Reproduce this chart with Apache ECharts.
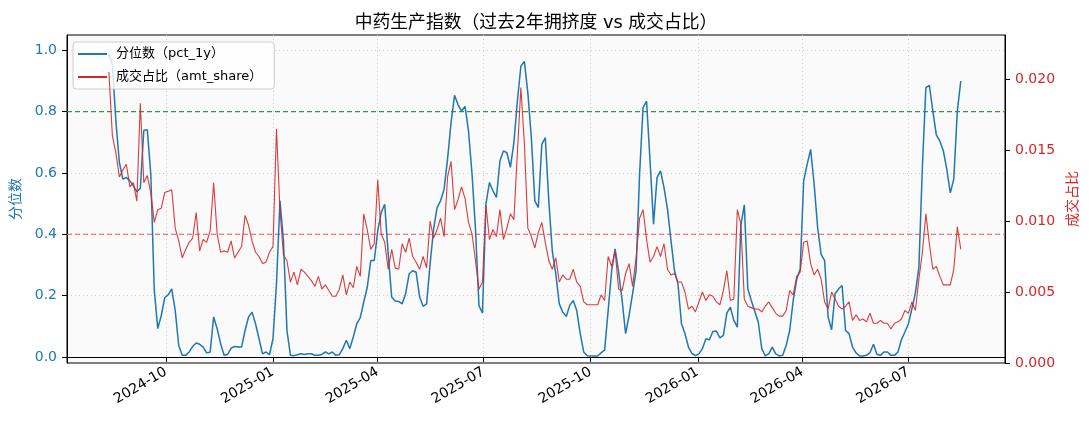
<!DOCTYPE html>
<html>
<head>
<meta charset="UTF-8">
<title>中药生产指数</title>
<script src="https://cdn.jsdelivr.net/npm/echarts@6/dist/echarts.min.js"></script>
<style>
  html, body { margin: 0; padding: 0; background: #fff; }
  #chart { width: 1089px; height: 429px; }
</style>
</head>
<body>
<div id="chart"></div>
<script type="text/javascript">
// 采样：从 startDate 起每 stepDays 天一个点
var startDate = '2024-08-13';
var stepDays = 3;

// 分位数（pct_1y）
var pctVals = [
  0.986, 0.953, 0.769, 0.634, 0.580, 0.585, 0.574, 0.558, 0.539, 0.550,
  0.739, 0.741, 0.596, 0.216, 0.092, 0.135, 0.193, 0.203, 0.222, 0.151,
  0.037, 0.005, 0.005, 0.016, 0.034, 0.045, 0.041, 0.032, 0.013, 0.015,
  0.130, 0.092, 0.043, 0.005, 0.008, 0.028, 0.034, 0.032, 0.032, 0.086,
  0.130, 0.146, 0.108, 0.059, 0.010, 0.016, 0.007, 0.059, 0.238, 0.509,
  0.379, 0.086, 0.005, 0.004, 0.007, 0.010, 0.008, 0.010, 0.010, 0.005,
  0.005, 0.008, 0.016, 0.010, 0.016, 0.005, 0.007, 0.027, 0.054, 0.027,
  0.065, 0.108, 0.128, 0.179, 0.227, 0.314, 0.314, 0.411, 0.471, 0.498,
  0.336, 0.195, 0.182, 0.181, 0.173, 0.206, 0.271, 0.281, 0.276, 0.195,
  0.165, 0.173, 0.303, 0.417, 0.487, 0.509, 0.547, 0.645, 0.764, 0.853,
  0.823, 0.802, 0.817, 0.737, 0.598, 0.417, 0.167, 0.143, 0.498, 0.569,
  0.542, 0.520, 0.639, 0.672, 0.666, 0.618, 0.699, 0.834, 0.948, 0.964,
  0.861, 0.715, 0.509, 0.487, 0.693, 0.715, 0.509, 0.346, 0.271, 0.173,
  0.146, 0.132, 0.168, 0.184, 0.151, 0.076, 0.016, 0.004, 0.003, 0.003,
  0.003, 0.013, 0.023, 0.151, 0.281, 0.352, 0.276, 0.184, 0.076, 0.135,
  0.206, 0.281, 0.596, 0.813, 0.834, 0.639, 0.433, 0.585, 0.607, 0.552,
  0.482, 0.379, 0.281, 0.238, 0.108, 0.076, 0.032, 0.011, 0.004, 0.010,
  0.027, 0.059, 0.056, 0.083, 0.084, 0.062, 0.070, 0.143, 0.162, 0.119,
  0.097, 0.428, 0.496, 0.222, 0.184, 0.149, 0.113, 0.027, 0.003, 0.010,
  0.032, 0.010, 0.003, 0.005, 0.038, 0.086, 0.184, 0.252, 0.287, 0.574,
  0.628, 0.677, 0.563, 0.422, 0.334, 0.314, 0.130, 0.088, 0.206, 0.222,
  0.233, 0.086, 0.076, 0.032, 0.013, 0.003, 0.003, 0.005, 0.014, 0.041,
  0.008, 0.005, 0.016, 0.016, 0.005, 0.005, 0.016, 0.056, 0.081, 0.108,
  0.157, 0.209, 0.292, 0.618, 0.878, 0.886, 0.802, 0.724, 0.704, 0.672,
  0.612, 0.535, 0.580, 0.800, 0.900
];

// 成交占比（amt_share）
var amtVals = [
  0.0205, 0.0160, 0.0148, 0.0131, 0.0136, 0.0140, 0.0124, 0.0127, 0.0114, 0.0183,
  0.0127, 0.0132, 0.0120, 0.0099, 0.0108, 0.0109, 0.0120, 0.0121, 0.0122, 0.0095,
  0.0086, 0.0074, 0.0080, 0.0085, 0.0088, 0.0106, 0.0079, 0.0087, 0.0085, 0.0093,
  0.0127, 0.0091, 0.0078, 0.0079, 0.0078, 0.0086, 0.0074, 0.0078, 0.0082, 0.0104,
  0.0097, 0.0086, 0.0078, 0.0075, 0.0070, 0.0071, 0.0078, 0.0082, 0.0165, 0.0108,
  0.0076, 0.0072, 0.0057, 0.0064, 0.0055, 0.0066, 0.0064, 0.0061, 0.0058, 0.0054,
  0.0061, 0.0052, 0.0055, 0.0051, 0.0047, 0.0047, 0.0052, 0.0062, 0.0048, 0.0057,
  0.0053, 0.0068, 0.0061, 0.0105, 0.0094, 0.0080, 0.0084, 0.0129, 0.0091, 0.0085,
  0.0066, 0.0080, 0.0067, 0.0066, 0.0084, 0.0078, 0.0088, 0.0075, 0.0071, 0.0066,
  0.0075, 0.0067, 0.0100, 0.0088, 0.0094, 0.0102, 0.0089, 0.0131, 0.0142, 0.0108,
  0.0115, 0.0124, 0.0116, 0.0099, 0.0091, 0.0072, 0.0052, 0.0057, 0.0111, 0.0087,
  0.0094, 0.0089, 0.0108, 0.0087, 0.0095, 0.0105, 0.0101, 0.0148, 0.0194, 0.0155,
  0.0095, 0.0089, 0.0081, 0.0092, 0.0099, 0.0085, 0.0072, 0.0066, 0.0074, 0.0057,
  0.0062, 0.0059, 0.0059, 0.0066, 0.0057, 0.0054, 0.0043, 0.0041, 0.0041, 0.0041,
  0.0041, 0.0048, 0.0044, 0.0075, 0.0068, 0.0079, 0.0052, 0.0051, 0.0063, 0.0070,
  0.0054, 0.0074, 0.0102, 0.0108, 0.0087, 0.0071, 0.0075, 0.0082, 0.0075, 0.0084,
  0.0066, 0.0062, 0.0063, 0.0057, 0.0057, 0.0050, 0.0038, 0.0040, 0.0036, 0.0043,
  0.0050, 0.0044, 0.0048, 0.0047, 0.0043, 0.0041, 0.0051, 0.0065, 0.0044, 0.0045,
  0.0108, 0.0098, 0.0045, 0.0040, 0.0039, 0.0038, 0.0038, 0.0036, 0.0040, 0.0043,
  0.0039, 0.0035, 0.0033, 0.0033, 0.0037, 0.0051, 0.0048, 0.0061, 0.0064, 0.0085,
  0.0086, 0.0070, 0.0062, 0.0066, 0.0059, 0.0043, 0.0038, 0.0050, 0.0045, 0.0040,
  0.0038, 0.0040, 0.0043, 0.0030, 0.0034, 0.0030, 0.0031, 0.0029, 0.0035, 0.0028,
  0.0028, 0.0030, 0.0028, 0.0028, 0.0024, 0.0028, 0.0029, 0.0031, 0.0037, 0.0035,
  0.0043, 0.0037, 0.0059, 0.0078, 0.0105, 0.0084, 0.0066, 0.0068, 0.0061, 0.0055,
  0.0055, 0.0055, 0.0066, 0.0096, 0.0080
];

var xTicks = ['2024-10-01', '2025-01-01', '2025-04-01', '2025-07-01',
              '2025-10-01', '2026-01-01', '2026-04-01', '2026-07-01'];
var xRange = ['2024-07-08', '2026-09-22'];
var pctTicks = [0, 0.2, 0.4, 0.6, 0.8, 1.0];
var amtTicks = [0, 0.005, 0.010, 0.015, 0.020];
var highLine = 0.8;   // 左轴，绿色虚线
var lowLine = 0.4;    // 左轴，红色虚线

var FONT = "'DejaVu Sans', 'Noto Sans CJK SC', sans-serif";
var DAY = 86400000;
var t0 = Date.parse(startDate);
var xMin = Date.parse(xRange[0]);
var xMax = Date.parse(xRange[1]);

function toPairs(vals) {
  return vals.map(function (v, i) { return [t0 + i * stepDays * DAY, v]; });
}
function ym(ts) {
  var d = new Date(ts);
  var m = d.getUTCMonth() + 1;
  return d.getUTCFullYear() + '-' + (m < 10 ? '0' : '') + m;
}
function hLine(y, color, w) {
  return {
    type: 'line', yAxisIndex: 0, silent: true, z: 2,
    data: [[xMin, y], [xMax, y]],
    showSymbol: false, symbol: 'none',
    color: color,
    lineStyle: { color: color, type: [5, 3], width: w, opacity: 1 },
    tooltip: { show: false }
  };
}
var xTickTs = xTicks.map(function (s) { return Date.parse(s); });
var gridLine = { show: true, lineStyle: { color: '#d0d0d0', type: [1, 3], width: 1 } };

var myChart = echarts.init(document.getElementById('chart'), null, { renderer: 'canvas' });
myChart.setOption({
  animation: false,
  textStyle: { fontFamily: FONT },
  title: {
    text: '中药生产指数（过去2年拥挤度 vs 成交占比）',
    left: 531, top: 9, textAlign: 'center',
    textStyle: { fontFamily: FONT, fontSize: 17.8, fontWeight: 'normal', color: '#000' }
  },
  legend: {
    orient: 'vertical', left: 73, top: 42,
    padding: [4, 12, 4, 5], itemGap: 7,
    itemWidth: 29, itemHeight: 2, icon: 'rect',
    backgroundColor: 'rgba(255,255,255,0.8)',
    borderColor: '#cccccc', borderWidth: 1, borderRadius: 3,
    textStyle: { fontFamily: FONT, fontSize: 13, color: '#000', lineHeight: 16, padding: [0, 0, 0, 4] },
    data: ['分位数（pct_1y）', '成交占比（amt_share）']
  },
  grid: {
    left: 67, right: 84, top: 35, bottom: 66,
    show: true, backgroundColor: '#fafafa', borderColor: '#000', borderWidth: 1
  },
  xAxis: {
    type: 'value',
    min: xMin, max: xMax,
    axisLine: { lineStyle: { color: '#000', width: 1 } },
    axisTick: { customValues: xTickTs, length: 5, lineStyle: { color: '#000' } },
    axisLabel: {
      customValues: xTickTs, rotate: 30, margin: 8,
      fontSize: 14, color: '#000', fontFamily: FONT,
      formatter: function (v) { return ym(v); }
    },
    splitLine: gridLine
  },
  yAxis: [{
    type: 'value', min: -0.02, max: 1.05, position: 'left',
    name: '分位数', nameLocation: 'middle', nameRotate: 90, nameGap: 38,
    nameTextStyle: { color: '#1f77b4', fontSize: 14, fontFamily: FONT },
    axisLine: { show: true, lineStyle: { color: '#000' } },
    axisTick: { show: true, customValues: pctTicks, length: 5, lineStyle: { color: '#000' } },
    axisLabel: {
      customValues: pctTicks, margin: 10, fontSize: 14, color: '#1f77b4', fontFamily: FONT,
      formatter: function (v) { return v.toFixed(1); }
    },
    splitLine: gridLine
  }, {
    type: 'value', min: 0, max: 0.0231, position: 'right',
    name: '成交占比', nameLocation: 'middle', nameRotate: 90, nameGap: 48,
    nameTextStyle: { color: '#d62728', fontSize: 14, fontFamily: FONT },
    axisLine: { show: true, lineStyle: { color: '#000' } },
    axisTick: { show: true, customValues: amtTicks, length: 5, lineStyle: { color: '#000' } },
    axisLabel: {
      customValues: amtTicks, margin: 10, fontSize: 14, color: '#d62728', fontFamily: FONT,
      formatter: function (v) { return v.toFixed(3); }
    },
    splitLine: { show: false }
  }],
  series: [
    hLine(highLine, '#2ca02c', 1.4),
    hLine(lowLine, '#e8585a', 1),
    {
      name: '分位数（pct_1y）',
      type: 'line', yAxisIndex: 0,
      data: toPairs(pctVals),
      showSymbol: false, symbol: 'none',
      color: '#1f77b4',
      lineStyle: { color: '#1f77b4', width: 1.5 },
      z: 3
    }, {
      name: '成交占比（amt_share）',
      type: 'line', yAxisIndex: 1,
      data: toPairs(amtVals),
      showSymbol: false, symbol: 'none',
      color: '#d62728',
      lineStyle: { color: '#d62728', width: 1.1, opacity: 0.9 },
      z: 4
    }
  ]
});
</script>
</body>
</html>
